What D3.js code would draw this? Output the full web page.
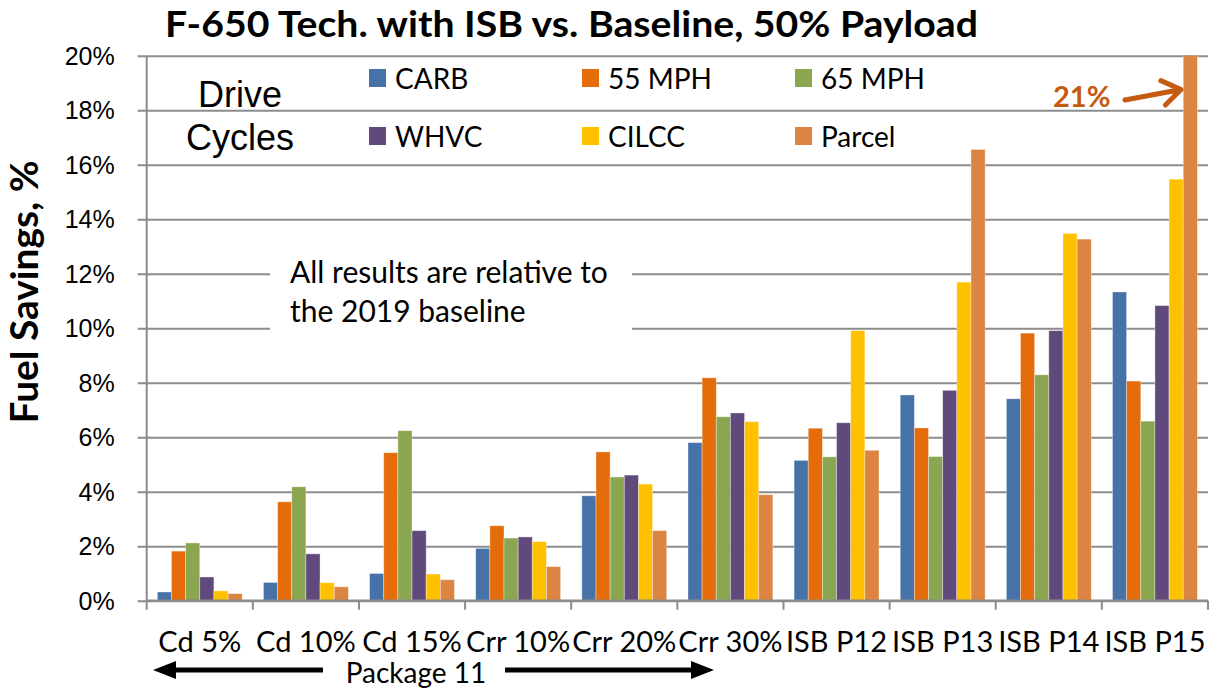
<!DOCTYPE html>
<html>
<head>
  <meta charset="utf-8">
  <script src="https://d3js.org/d3.v7.min.js"></script>
  <style>
    body { margin: 0; background: #fff; }
    .calib { font-family: Lato, "Liberation Sans", sans-serif; }
    .arial { font-family: "Liberation Sans", Arial, sans-serif; }
  </style>
</head>
<body>
<div id="chart"></div>
<script>

// categories and drive cycles
var categories = ["Cd 5%", "Cd 10%", "Cd 15%", "Crr 10%", "Crr 20%", "Crr 30%",
                  "ISB P12", "ISB P13", "ISB P14", "ISB P15"]
var series = ["CARB", "55 MPH", "65 MPH", "WHVC", "CILCC", "Parcel"]

// fuel savings, %
var carb   = [0.32, 0.67, 1.00, 1.92, 3.85, 5.80, 5.15, 7.55, 7.41, 11.33]
var mph55  = [1.82, 3.63, 5.43, 2.75, 5.46, 8.18, 6.33, 6.34, 9.82, 8.06]
var mph65  = [2.12, 4.18, 6.24, 2.30, 4.54, 6.75, 5.28, 5.29, 8.29, 6.59]
var whvc   = [0.87, 1.72, 2.57, 2.34, 4.61, 6.89, 6.53, 7.72, 9.91, 10.83]
var cilcc  = [0.36, 0.66, 0.98, 2.17, 4.28, 6.57, 9.91, 11.69, 13.48, 15.47]
var parcel = [0.26, 0.51, 0.77, 1.25, 2.57, 3.89, 5.52, 16.56, 13.27, 21.0]

var yTicks = [0, 2, 4, 6, 8, 10, 12, 14, 16, 18, 20]

var allValues = [carb, mph55, mph65, whvc, cilcc, parcel]
var colors = ["#4672A8", "#E46C0A", "#8BA650", "#604A7B", "#FFC000", "#DC8442"]

var margin = {top: 55.7, left: 146.7},
    width = 1061.3,
    height = 545;

const svg = d3.select("#chart")
  .append("svg")
    .attr("width", 1214)
    .attr("height", 690)

const g = svg.append("g")
    .attr("transform", `translate(${margin.left},${margin.top})`);

// scales
const x0 = d3.scaleBand()
  .domain(categories)
  .range([0, width])
  .paddingInner(0)
  .paddingOuter(0);

const x1 = d3.scaleBand()
  .domain(series)
  .range([0, x0.bandwidth()])
  .paddingInner(0)
  .paddingOuter(0.75);

const y = d3.scaleLinear()
  .domain([0, 20])
  .range([height, 0]);

const color = d3.scaleOrdinal().domain(series).range(colors);

// gridlines + y axis ticks
const yAxis = g.append("g")
  .call(d3.axisLeft(y).tickValues(yTicks).tickSize(-width - 9).tickFormat(""))
  .attr("transform", "translate(-9,0)")
yAxis.select(".domain").remove()
yAxis.selectAll("line")
  .attr("stroke", "#8c8c8c")
  .attr("stroke-width", 2)
  .attr("transform", "translate(" + (width + 9) + ",0)")
  .attr("x2", -width - 9)

// y tick labels
g.selectAll(".ylab")
  .data(yTicks)
  .join("text")
  .attr("class", "ylab arial")
  .attr("x", -32)
  .attr("y", d => y(d))
  .attr("dy", "0.36em")
  .attr("text-anchor", "end")
  .style("font-size", "25px")
  .text(d => d + "%")

// note box (covers gridlines)
g.append("rect")
  .attr("x", 270 - margin.left)
  .attr("y", 250 - margin.top)
  .attr("width", 362)
  .attr("height", 88)
  .attr("fill", "#fff")

// clip so the 21% bar stops at the top
svg.append("defs").append("clipPath")
  .attr("id", "clip")
  .append("rect")
  .attr("x", 0).attr("y", 0)
  .attr("width", width).attr("height", height);

const bars = g.append("g").attr("clip-path", "url(#clip)")

series.forEach(function(s, i) {
  bars.selectAll(".bar" + i)
    .data(allValues[i])
    .join("rect")
    .attr("class", "bar" + i)
    .attr("x", (d, j) => x0(categories[j]) + x1(s))
    .attr("width", x1.bandwidth())
    .attr("y", d => y(d))
    .attr("height", d => height - y(d))
    .attr("fill", color(s))
    .attr("stroke", "#ffffff")
    .attr("stroke-opacity", 0.45)
    .attr("stroke-width", 0.8)
})

// y axis line
g.append("line")
  .attr("x1", 0).attr("x2", 0)
  .attr("y1", 0).attr("y2", height)
  .attr("stroke", "#8c8c8c")
  .attr("stroke-width", 2)

// x axis line and boundary ticks
g.append("line")
  .attr("x1", 0).attr("x2", width)
  .attr("y1", height).attr("y2", height)
  .attr("stroke", "#8c8c8c")
  .attr("stroke-width", 2.5)

g.selectAll(".xtick")
  .data(d3.range(categories.length + 1))
  .join("line")
  .attr("class", "xtick")
  .attr("x1", d => d * x0.step()).attr("x2", d => d * x0.step())
  .attr("y1", height).attr("y2", height + 9)
  .attr("stroke", "#8c8c8c")
  .attr("stroke-width", 2)

// category labels
g.selectAll(".xlab")
  .data(categories)
  .join("text")
  .attr("class", "xlab calib")
  .attr("x", d => x0(d) + x0.bandwidth() / 2)
  .attr("y", 652 - margin.top)
  .attr("text-anchor", "middle")
  .style("font-size", "29px")
  .text(d => d)

// title
svg.append("text")
  .attr("class", "calib")
  .attr("x", 571.5)
  .attr("y", 37)
  .attr("text-anchor", "middle")
  .attr("textLength", 813)
  .attr("lengthAdjust", "spacingAndGlyphs")
  .style("font-size", "36px")
  .style("font-weight", "bold")
  .text("F-650 Tech. with ISB vs. Baseline, 50% Payload")

// y axis title
svg.append("text")
  .attr("class", "calib")
  .attr("transform", "translate(38,292) rotate(-90)")
  .attr("text-anchor", "middle")
  .attr("textLength", 263)
  .attr("lengthAdjust", "spacingAndGlyphs")
  .style("font-size", "38px")
  .style("font-weight", "bold")
  .text("Fuel Savings, %")

// legend
svg.append("text").attr("class", "arial")
  .attr("x", 240).attr("y", 107)
  .attr("text-anchor", "middle")
  .style("font-size", "36px")
  .text("Drive")
svg.append("text").attr("class", "arial")
  .attr("x", 240).attr("y", 150)
  .attr("text-anchor", "middle")
  .style("font-size", "36px")
  .text("Cycles")

const legend = svg.selectAll(".legend-item")
  .data(series)
  .join("g")
  .attr("class", "legend-item")
  .attr("transform", (d, i) => `translate(${369 + (i % 3) * 213},${69 + Math.floor(i / 3) * 58})`)

legend.append("rect")
  .attr("width", 17).attr("height", 18)
  .attr("fill", d => color(d))

legend.append("text")
  .attr("class", "calib")
  .attr("x", 26).attr("y", 20)
  .style("font-size", "28px")
  .text(d => d)

// note text
svg.append("text").attr("class", "calib")
  .attr("x", 290).attr("y", 283)
  .style("font-size", "30px")
  .text("All results are relative to")
svg.append("text").attr("class", "calib")
  .attr("x", 290).attr("y", 322)
  .style("font-size", "30px")
  .text("the 2019 baseline")

// 21% callout
svg.append("text").attr("class", "calib")
  .attr("x", 1053).attr("y", 107)
  .style("font-size", "29px")
  .style("font-weight", "bold")
  .attr("fill", "#C55A11")
  .text("21%")

var tip = [1181, 89.5], tail = [1125, 100]
var ang = Math.atan2(tip[1] - tail[1], tip[0] - tail[0])
var arm = 22
svg.append("path")
  .attr("d", "M" + tail + "L" + tip +
    "M" + [tip[0] - arm * Math.cos(ang - 0.6), tip[1] - arm * Math.sin(ang - 0.6)] +
    "L" + tip +
    "L" + [tip[0] - arm * Math.cos(ang + 0.6), tip[1] - arm * Math.sin(ang + 0.6)])
  .attr("fill", "none")
  .attr("stroke", "#C55A11")
  .attr("stroke-width", 5)
  .attr("stroke-linecap", "round")
  .attr("stroke-linejoin", "round")

// Package 11 label with arrows
svg.append("text").attr("class", "calib")
  .attr("x", 416).attr("y", 683)
  .attr("text-anchor", "middle")
  .style("font-size", "28px")
  .text("Package 11")

svg.append("line")
  .attr("x1", 323).attr("x2", 168)
  .attr("y1", 670).attr("y2", 670)
  .attr("stroke", "#000").attr("stroke-width", 5)
svg.append("path")
  .attr("d", "M153,670 L176,661 L176,679 Z")
  .attr("fill", "#000")

svg.append("line")
  .attr("x1", 505).attr("x2", 698)
  .attr("y1", 670).attr("y2", 670)
  .attr("stroke", "#000").attr("stroke-width", 5)
svg.append("path")
  .attr("d", "M714,670 L691,661 L691,679 Z")
  .attr("fill", "#000")

</script>
</body>
</html>
